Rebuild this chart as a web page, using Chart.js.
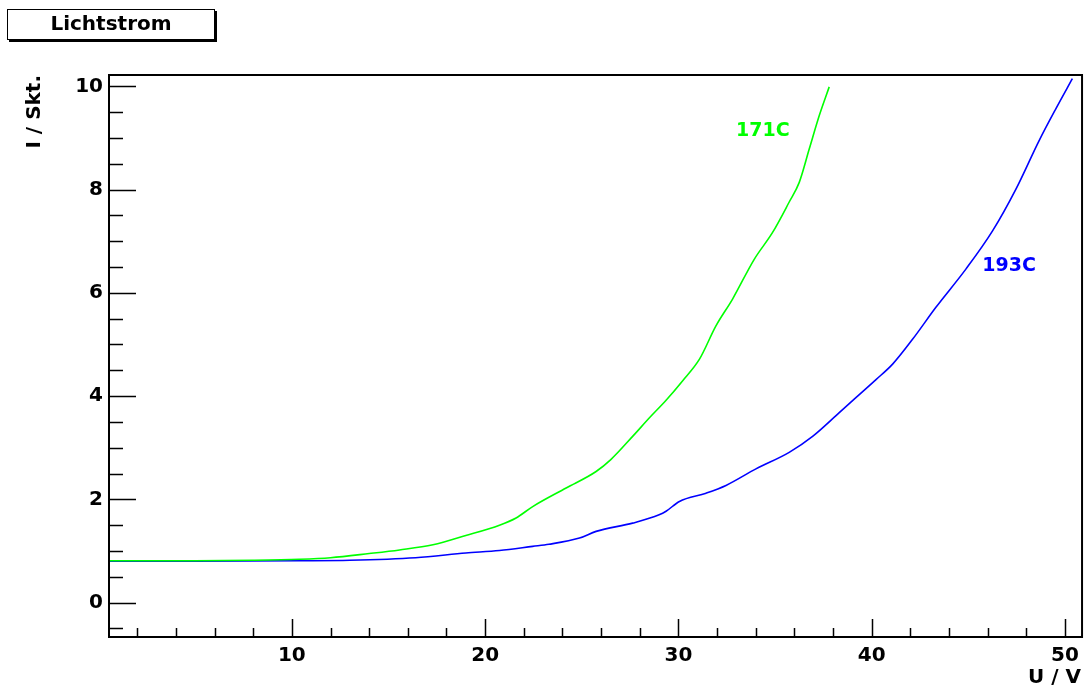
<!DOCTYPE html>
<html>
<head>
<meta charset="utf-8">
<title>Lichtstrom</title>
<script src="https://cdn.jsdelivr.net/npm/chart.js@4/dist/chart.umd.min.js"></script>
<style>
  html, body { margin: 0; padding: 0; background: #fff; }
  canvas { display: block; }
</style>
</head>
<body>
<canvas id="chart" width="1086" height="695"></canvas>
<script>
// 171C curve (green)
const greenU = [0.54, 5, 8, 10.4, 12, 14, 15.57, 17.3, 19, 20.74, 21.6, 22.46, 24.19, 25.74, 26.5, 27.63, 28.5, 29.36, 30.2, 31.08, 31.94, 32.8, 33.92, 34.87, 35.73, 36.25, 36.77, 37.29, 37.8];
const greenI = [0.81, 0.81, 0.82, 0.84, 0.87, 0.95, 1.02, 1.12, 1.30, 1.50, 1.64, 1.86, 2.22, 2.54, 2.77, 3.22, 3.58, 3.92, 4.29, 4.71, 5.36, 5.88, 6.65, 7.17, 7.76, 8.14, 8.79, 9.44, 9.99];

// 193C curve (blue)
const blueU = [0.54, 5, 10.4, 13, 16.4, 19.0, 20.74, 22.46, 23.3, 24.88, 25.74, 27.63, 29.0, 29.36, 30.05, 31.43, 32.46, 34.01, 35.73, 36.94, 38.32, 39.18, 40.22, 41.08, 42.11, 43.32, 44.87, 46.25, 47.46, 48.66, 49.53, 50.38];
const blueI = [0.80, 0.80, 0.81, 0.82, 0.87, 0.96, 1.01, 1.09, 1.13, 1.25, 1.38, 1.54, 1.70, 1.77, 1.96, 2.12, 2.27, 2.59, 2.91, 3.22, 3.68, 3.97, 4.32, 4.62, 5.10, 5.72, 6.46, 7.20, 8.01, 8.95, 9.57, 10.15];

const xTicks = [10, 20, 30, 40, 50];
const xMinorTicks = [2, 4, 6, 8, 12, 14, 16, 18, 22, 24, 26, 28, 32, 34, 36, 38, 42, 44, 46, 48];
const yTicks = [0, 2, 4, 6, 8, 10];
const yMinorTicks = [-0.5, 0.5, 1, 1.5, 2.5, 3, 3.5, 4.5, 5, 5.5, 6.5, 7, 7.5, 8.5, 9, 9.5];

const seriesLabels = [
  { text: '171C', x: 34.37, y: 9.14, color: '#00ff00' },
  { text: '193C', x: 47.11, y: 6.51, color: '#0000ff' }
];

const FONT = 'bold 20px "DejaVu Sans", sans-serif';

function pts(us, is) { return us.map((u, i) => ({ x: u, y: is[i] })); }

// frame, inside ticks, title box, axis titles and curve labels
const decor = {
  id: 'decor',
  afterDraw(chart) {
    const ctx = chart.ctx, a = chart.chartArea;
    const xs = chart.scales.x, ys = chart.scales.y;
    ctx.save();
    ctx.strokeStyle = '#000';
    ctx.lineWidth = 2;
    ctx.strokeRect(a.left, a.top, a.right - a.left, a.bottom - a.top);

    ctx.lineWidth = 1.5;
    ctx.beginPath();
    yTicks.forEach(v => { const p = Math.round(ys.getPixelForValue(v)) + 0.5; ctx.moveTo(a.left, p); ctx.lineTo(a.left + 27, p); });
    yMinorTicks.forEach(v => { const p = Math.round(ys.getPixelForValue(v)) + 0.5; ctx.moveTo(a.left, p); ctx.lineTo(a.left + 14, p); });
    xTicks.forEach(v => { const p = Math.round(xs.getPixelForValue(v)) + 0.5; ctx.moveTo(p, a.bottom); ctx.lineTo(p, a.bottom - 18); });
    xMinorTicks.forEach(v => { const p = Math.round(xs.getPixelForValue(v)) + 0.5; ctx.moveTo(p, a.bottom); ctx.lineTo(p, a.bottom - 9); });
    ctx.stroke();

    // title box
    ctx.fillStyle = '#000';
    ctx.fillRect(9, 11, 208, 31);
    ctx.fillStyle = '#fff';
    ctx.fillRect(7, 9, 208, 31);
    ctx.lineWidth = 1;
    ctx.strokeRect(7.5, 9.5, 207, 30);
    ctx.fillStyle = '#000';
    ctx.font = FONT;
    ctx.textAlign = 'center';
    ctx.textBaseline = 'middle';
    ctx.fillText('Lichtstrom', 111, 25);

    // axis titles
    ctx.textAlign = 'right';
    ctx.fillText('U / V', 1081, 678);
    ctx.save();
    ctx.translate(35, 75);
    ctx.rotate(-Math.PI / 2);
    ctx.fillText('I / Skt.', 0, 0);
    ctx.restore();

    // curve labels
    ctx.font = 'bold 19px "DejaVu Sans", sans-serif';
    ctx.textAlign = 'center';
    seriesLabels.forEach(l => {
      ctx.fillStyle = l.color;
      ctx.fillText(l.text, xs.getPixelForValue(l.x), ys.getPixelForValue(l.y));
    });
    ctx.restore();
  }
};

new Chart(document.getElementById('chart').getContext('2d'), {
  type: 'scatter',
  data: {
    datasets: [
      { label: '171C', data: pts(greenU, greenI), showLine: true, borderColor: '#00ff00', borderWidth: 1.6, pointRadius: 0, cubicInterpolationMode: 'monotone' },
      { label: '193C', data: pts(blueU, blueI), showLine: true, borderColor: '#0000ff', borderWidth: 1.6, pointRadius: 0, cubicInterpolationMode: 'monotone' }
    ]
  },
  options: {
    responsive: false,
    animation: false,
    devicePixelRatio: 1,
    layout: { padding: { top: 75, right: 3, left: 0, bottom: 0 } },
    plugins: { legend: { display: false }, tooltip: { enabled: false } },
    scales: {
      x: {
        type: 'linear', min: 0.54, max: 50.88,
        grid: { display: false, drawTicks: false }, border: { display: false },
        afterBuildTicks: s => { s.ticks = xTicks.map(v => ({ value: v })); },
        afterFit: s => { s.height = 58; },
        ticks: { color: '#000', font: { family: '"DejaVu Sans"', size: 20, weight: 'bold' }, padding: 7, maxRotation: 0, autoSkip: false }
      },
      y: {
        type: 'linear', min: -0.666, max: 10.22,
        grid: { display: false, drawTicks: false }, border: { display: false },
        afterBuildTicks: s => { s.ticks = yTicks.map(v => ({ value: v })); },
        afterFit: s => { s.width = 109; },
        ticks: { color: '#000', font: { family: '"DejaVu Sans"', size: 20, weight: 'bold' }, padding: 6, autoSkip: false }
      }
    }
  },
  plugins: [decor]
});
</script>
</body>
</html>
